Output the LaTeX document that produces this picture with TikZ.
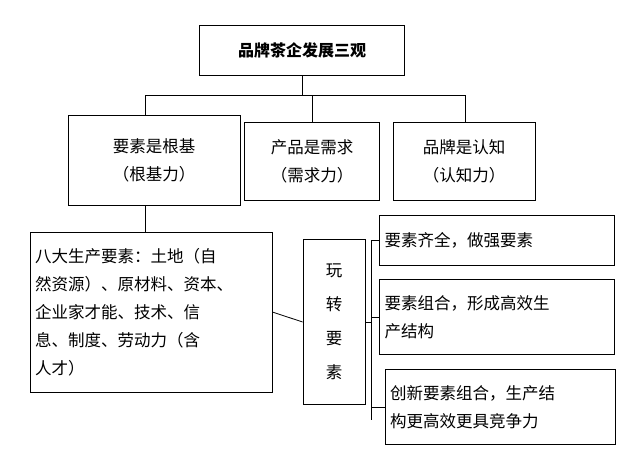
\documentclass[tikz,border=0pt]{standalone}
\usepackage{fontspec}
\setmainfont{Noto Sans CJK SC}
\begin{document}
\begin{tikzpicture}[x=1pt,y=-1pt,
  bx/.style={draw,line width=0.8pt,inner sep=0pt,font=\fontsize{16.5}{28}\selectfont},
  ln/.style={line width=0.8pt}]
\useasboundingbox (0,0) rectangle (640,459);
\node[bx,minimum width=205,minimum height=50,font=\bfseries\fontsize{16}{20}\selectfont] (top) at (302,50) {品牌茶企发展三观};
\node[bx,minimum width=172,minimum height=90,align=center] (b1) at (154,160) {要素是根基\\（根基力）};
\node[bx,minimum width=135,minimum height=78,align=center] (b2) at (312,161) {产品是需求\\（需求力）};
\node[bx,minimum width=142,minimum height=78,align=center] (b3) at (464,161) {品牌是认知\\（认知力）};
\coordinate (h) at (302,95);
\draw[ln] (top.south) -- (h);
\draw[ln] (145,95) -- (465,95);
\draw[ln] (145,95) -- (145,115);
\draw[ln] (312,95) -- (b2.north);
\draw[ln] (465,95) -- (465,122);
\node[bx,minimum width=242,minimum height=160,text width=232,align=left] (big) at (151,312)
 {八大生产要素：土地（自\\然资源）、原材料、资本、\\企业家才能、技术、信\\息、制度、劳动力（含\\人才）};
\draw[ln] (145,205) -- (145,232);
\node[bx,minimum width=62,minimum height=165,align=center,font=\fontsize{16.5}{34}\selectfont] (v) at (334,322) {玩\\转\\要\\素};
\draw[ln] (big.east) -- (v.west);
\node[bx,minimum width=235,minimum height=50,text width=225,align=left] (r1) at (497,240) {要素齐全，做强要素};
\node[bx,minimum width=235,minimum height=75,text width=225,align=left] (r2) at (497,317) {要素组合，形成高效生\\产结构};
\node[bx,minimum width=230,minimum height=75,text width=220,align=left] (r3) at (500,407) {创新要素组合，生产结\\构更高效更具竞争力};
\draw[ln] (v.east) -- (371,322);
\draw[ln] (371,240) -- (371,420);
\draw[ln] (371,240) -- (r1.west);
\draw[ln] (371,317) -- (r2.west);
\draw[ln] (371,407) -- (r3.west);
\end{tikzpicture}
\end{document}
